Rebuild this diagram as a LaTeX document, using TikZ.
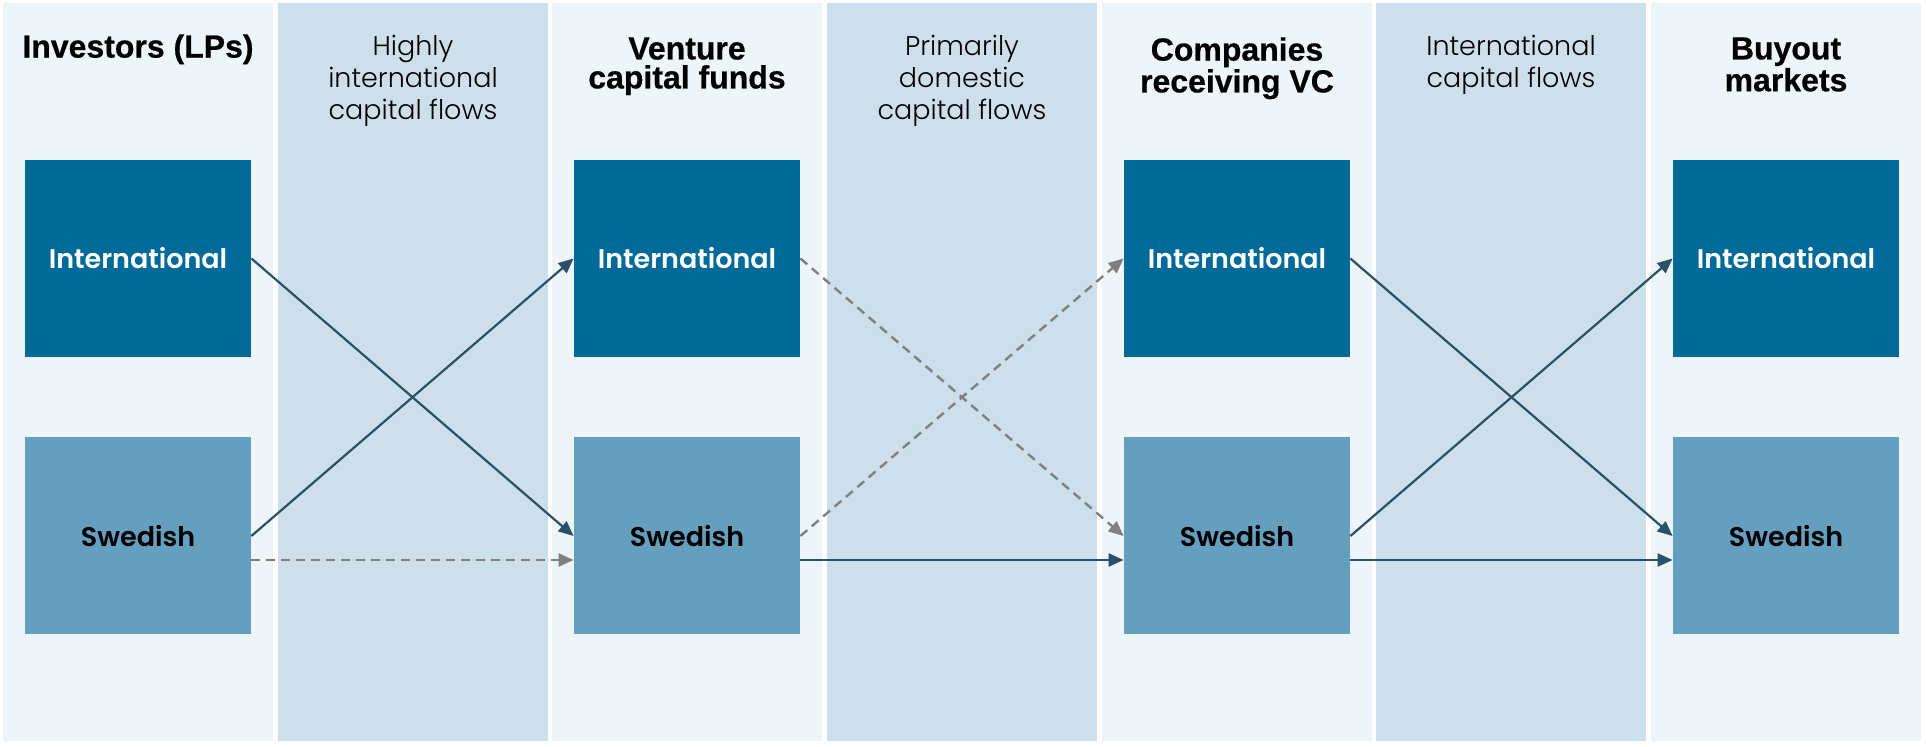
\documentclass[tikz,border=0pt]{standalone}
\usepackage{fontspec}
\setmainfont{Liberation Sans}
\newfontfamily\headfont{Liberation Sans}[UprightFont=* Bold, FakeBold=0.6]
\IfFontExistsTF{Poppins Light}{\newfontfamily\flowfont{Poppins Light}}{\newfontfamily\flowfont{Poppins}}
\IfFontExistsTF{Poppins SemiBold}{\newfontfamily\boxfont{Poppins SemiBold}}{\newfontfamily\boxfont{Poppins}[UprightFont=*-Bold]}
\usepackage{tikz}
\usetikzlibrary{arrows.meta}
\definecolor{panellight}{HTML}{EDF5F8}
\definecolor{paneldark}{HTML}{CCDFEA}
\definecolor{intblue}{HTML}{006A99}
\definecolor{sweblue}{HTML}{659FBF}
\definecolor{flowblue}{HTML}{2B5069}
\definecolor{flowgray}{HTML}{808080}

\begin{document}
\begin{tikzpicture}[
    x=0.5pt, y=-0.5pt,
    intbox/.style={fill=intblue, text=white, inner sep=0pt,
      minimum width=113pt, minimum height=98.5pt,
      font=\boxfont\fontsize{13.5}{16}\selectfont},
    swebox/.style={intbox, fill=sweblue, text=black},
    head/.style={anchor=north, inner sep=0pt, align=center,
      font=\headfont\fontsize{16}{14.5}\selectfont},
    flowlabel/.style={anchor=north, inner sep=0pt, align=center,
      font=\flowfont\fontsize{13.5}{16}\selectfont},
    flow/.style={draw=flowblue, line width=1.1pt,
      -{Triangle[length=7.5pt, width=6.5pt]}},
    weakflow/.style={draw=flowgray, line width=1.2pt, dash pattern=on 4.5pt off 3pt,
      -{Triangle[length=7.5pt, width=6.5pt, fill=flowgray]}}
  ]
    \useasboundingbox (0,0) rectangle (1926,747);
    \fill[white] (0,0) rectangle (1926,747);
    % columns
    \fill[panellight] (3,3) rectangle (273,741);
    \fill[paneldark] (278,3) rectangle (548,741);
    \fill[panellight] (552,3) rectangle (822,741);
    \fill[paneldark] (827,3) rectangle (1097,741);
    \fill[panellight] (1102,3) rectangle (1372,741);
    \fill[paneldark] (1376,3) rectangle (1646,741);
    \fill[panellight] (1651,3) rectangle (1921,741);

    \node[head] (lphead) at (138,34) {Investors (LPs)};
    \node[head] (vchead) at (687,37) {Venture\\capital funds};
    \node[head] (cohead) at (1237,37) {Companies\\receiving VC};
    \node[head] (bohead) at (1786,37) {Buyout\\markets};

    \node[flowlabel] (flowa) at (413,35) {Highly\\international\\capital flows};
    \node[flowlabel] (flowb) at (962,35) {Primarily\\domestic\\capital flows};
    \node[flowlabel] (flowc) at (1511,35) {International\\capital flows};

    \node[intbox] (lpint) at (138,258.5) {International};
    \node[swebox] (lpswe) at (138,536) {Swedish};
    \node[intbox] (vcint) at (687,258.5) {International};
    \node[swebox] (vcswe) at (687,536) {Swedish};
    \node[intbox] (coint) at (1237,258.5) {International};
    \node[swebox] (coswe) at (1237,536) {Swedish};
    \node[intbox] (boint) at (1786,258.5) {International};
    \node[swebox] (boswe) at (1786,536) {Swedish};

    % investors -> funds
    \draw[flow] (lpint.east) -- (vcswe.west);
    \draw[flow] (lpswe.east) -- (vcint.west);
    \draw[weakflow] ([yshift=-12pt]lpswe.east) -- ([yshift=-12pt]vcswe.west);
    % funds -> companies
    \draw[weakflow] (vcint.east) -- (coswe.west);
    \draw[weakflow] (vcswe.east) -- (coint.west);
    \draw[flow] ([yshift=-12pt]vcswe.east) -- ([yshift=-12pt]coswe.west);
    % companies -> buyout
    \draw[flow] (coint.east) -- (boswe.west);
    \draw[flow] (coswe.east) -- (boint.west);
    \draw[flow] ([yshift=-12pt]coswe.east) -- ([yshift=-12pt]boswe.west);
\end{tikzpicture}
\end{document}
